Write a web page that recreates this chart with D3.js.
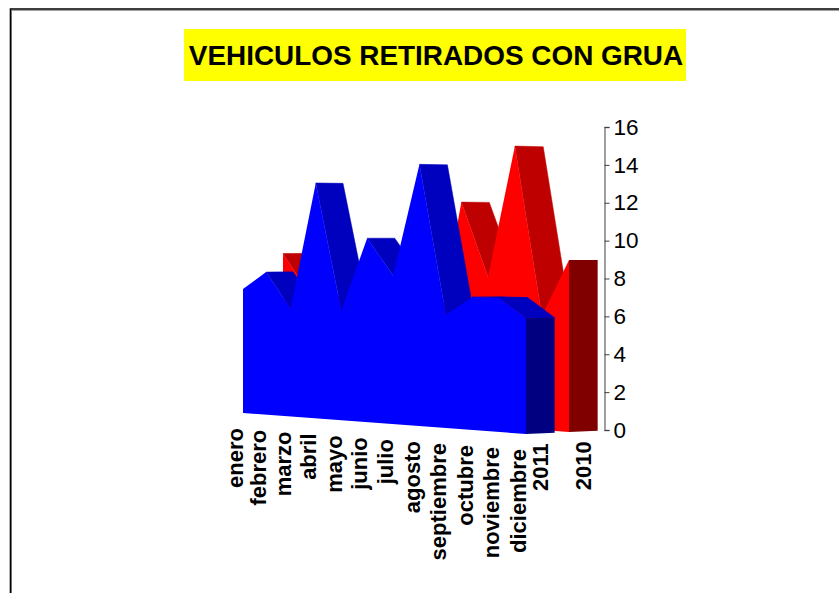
<!DOCTYPE html>
<html>
<head>
<meta charset="utf-8">
<script src="https://cdnjs.cloudflare.com/ajax/libs/d3/7.8.5/d3.min.js"></script>
<style>
    html, body { margin: 0; padding: 0; background: #fff; overflow: hidden; }
    text { font-family: "Liberation Sans", Arial, sans-serif; fill: #000; }
</style>
</head>
<body>
<div id="chart"></div>
<script>
const months = ["enero", "febrero", "marzo", "abril", "mayo", "junio", "julio", "agosto", "septiembre", "octubre", "noviembre", "diciembre"];
const values2011 = [7, 8, 6, 13, 6, 10, 8, 14, 6, 7, 7, 6];
// marzo to junio of 2010 sit behind the blue area, so those four are guesses
const values2010 = [9, 7, 5, 6, 4, 6, 4, 12, 8, 15, 6, 9];
const yTicks = [0, 2, 4, 6, 8, 10, 12, 14, 16];
const chartTitle = "VEHICULOS RETIRADOS CON GRUA";

const width = 839, height = 593;

const svg = d3.select("#chart")
    .append("svg")
        .attr("width", width)
        .attr("height", height)
        .style("display", "block");

// frame, runs off the right and bottom of the window
svg.append("path").attr("d", "M11.5,593V10.5H839").attr("fill", "none").attr("stroke", "#a0a0a0");
svg.append("path").attr("d", "M10.5,593V9H839").attr("fill", "none").attr("stroke", "#000").attr("stroke-width", 1.6);

// title
svg.append("rect").attr("x", 184).attr("y", 29).attr("width", 502).attr("height", 52).attr("fill", "#ffff00");
svg.append("text")
    .attr("x", 436)
    .attr("y", 64.5)
    .style("text-anchor", "middle")
    .style("font-size", "27.9px")
    .style("font-weight", "bold")
    .text(chartTitle);

// perspective: months get wider and taller towards the right
const monthX = d3.scalePow().exponent(1.045).domain([0, 11]).range([243, 526]);
const monthBase = d3.scalePow().exponent(1.045).domain([0, 11]).range([413, 434]);
const monthUnit = d3.scalePow().exponent(1.045).domain([0, 11]).range([17.7, 19.3]);
const depthShift = d3.scaleLinear().domain([0, 11]).range([40, 43]);

// z = 0 front of 2011, z = 1 front of 2010, each area is 2/3 deep
const areaDepth = 2 / 3;

function project(i, value, z) {
    const y = d3.scaleLinear()
        .domain([0, 16])
        .range([monthBase(i) - 2 * z, monthBase(i) - 2 * z - 16 * (monthUnit(i) - 0.2 * z)]);
    return [monthX(i) + depthShift(i) * z, y(value)];
}

const polyLine = d3.line();

function drawArea(values, z, colors) {
    const g = svg.append("g");
    const back = z + areaDepth;

    // top surface, only the falling and flat stretches face the viewer
    g.selectAll("path.top")
        .data(d3.range(values.length - 1).filter(i => values[i + 1] <= values[i]))
        .enter()
        .append("path")
            .attr("class", "top")
            .attr("d", i => polyLine([
                project(i, values[i], z),
                project(i, values[i], back),
                project(i + 1, values[i + 1], back),
                project(i + 1, values[i + 1], z)
            ]) + "Z")
            .attr("fill", colors.top)
            .attr("stroke", colors.top)
            .attr("stroke-width", 0.5);

    // right end
    const last = values.length - 1;
    g.append("path")
        .attr("d", polyLine([
            project(last, values[last], z),
            project(last, values[last], back),
            project(last, 0, back),
            project(last, 0, z)
        ]) + "Z")
        .attr("fill", colors.end);

    // front
    const front = values.map((v, i) => project(i, v, z));
    front.push(project(last, 0, z), project(0, 0, z));
    g.append("path")
        .attr("d", polyLine(front) + "Z")
        .attr("fill", colors.front);
}

drawArea(values2010, 1, {front: "#ff0000", top: "#bf0000", end: "#800000"});
drawArea(values2011, 0, {front: "#0000ff", top: "#0000bf", end: "#000080"});

// Y axis
const y = d3.scaleLinear().domain([0, 16]).range([430, 127]);
const yAxis = svg.append("g")
    .attr("transform", "translate(604.5,0)")
    .call(d3.axisRight(y).tickValues(yTicks).tickSize(5).tickPadding(4));
yAxis.select(".domain").attr("stroke", "#808080").attr("stroke-width", 1.5);
yAxis.selectAll(".tick line").attr("stroke", "#404040");
yAxis.selectAll("text").style("font-size", "22.5px");

// month labels follow the slanted front edge
svg.selectAll("text.month")
    .data(months)
    .enter()
    .append("text")
        .attr("class", "month")
        .attr("transform", (d, i) => `translate(${monthX(i) - 7.5},${monthBase(i) + 15})rotate(-90)`)
        .attr("dy", "0.35em")
        .style("text-anchor", "end")
        .style("font-size", "22px")
        .style("font-weight", "bold")
        .text(d => d);

// series labels along the depth axis
svg.selectAll("text.year")
    .data([["2011", 0], ["2010", 1]])
    .enter()
    .append("text")
        .attr("class", "year")
        .attr("transform", d => {
            const z = d[1] + areaDepth / 2;
            const p = project(11, 0, z);
            return `translate(${p[0] - 0.5},${p[1] + 10})rotate(-90)`;
        })
        .attr("dy", "0.35em")
        .style("text-anchor", "end")
        .style("font-size", "22px")
        .style("font-weight", "bold")
        .text(d => d[0]);
</script>
</body>
</html>
